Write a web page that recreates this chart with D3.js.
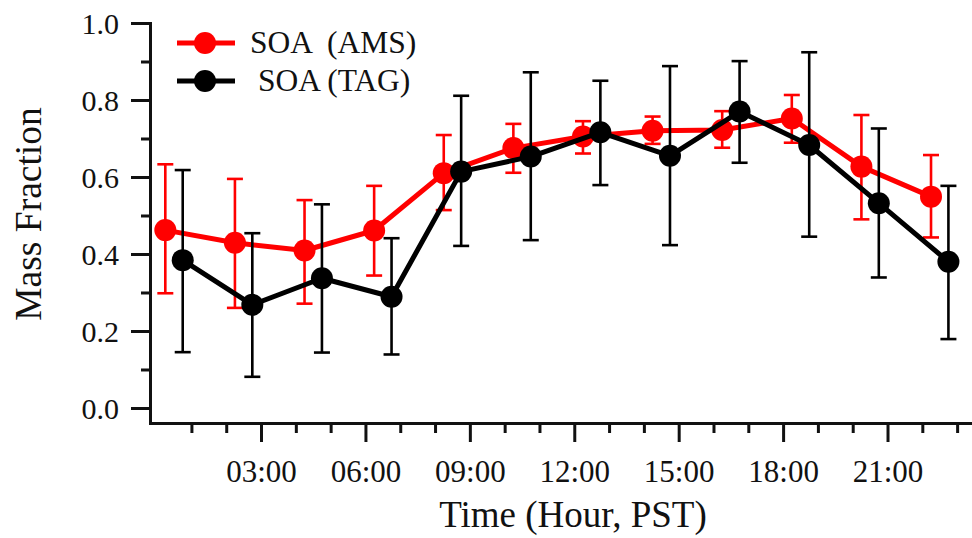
<!DOCTYPE html>
<html>
<head>
<meta charset="utf-8">
<script src="https://cdn.jsdelivr.net/npm/d3@7"></script>
<style>
  body { margin: 0; background: #fff; }
  text { font-family: "Liberation Serif", "Times New Roman", serif; fill: #111; }
</style>
</head>
<body>
<svg id="chart" width="972" height="538"></svg>
<script>
// data (hour of day, mass fraction, error bar ends)
var amsHour = [0.25, 2.25, 4.25, 6.25, 8.25, 10.25, 12.25, 14.25, 16.25, 18.25, 20.25, 22.25];
var amsValue = [0.462, 0.429, 0.409, 0.461, 0.610, 0.675, 0.705, 0.720, 0.722, 0.752, 0.627, 0.549];
var amsHigh = [0.633, 0.595, 0.540, 0.577, 0.709, 0.738, 0.745, 0.757, 0.771, 0.813, 0.761, 0.657];
var amsLow = [0.298, 0.260, 0.271, 0.344, 0.514, 0.611, 0.661, 0.686, 0.676, 0.689, 0.490, 0.443];

var tagHour = [0.75, 2.75, 4.75, 6.75, 8.75, 10.75, 12.75, 14.75, 16.75, 18.75, 20.75, 22.75];
var tagValue = [0.384, 0.268, 0.337, 0.289, 0.614, 0.653, 0.716, 0.655, 0.770, 0.683, 0.532, 0.380];
var tagHigh = [0.618, 0.454, 0.529, 0.441, 0.811, 0.872, 0.850, 0.888, 0.901, 0.924, 0.726, 0.577];
var tagLow = [0.145, 0.081, 0.144, 0.139, 0.421, 0.436, 0.579, 0.423, 0.637, 0.445, 0.339, 0.179];

var xMajor = [3, 6, 9, 12, 15, 18, 21];
var xMinor = [1, 2, 4, 5, 7, 8, 10, 11, 13, 14, 16, 17, 19, 20, 22, 23];
var yMajor = [0, 0.2, 0.4, 0.6, 0.8, 1.0];
var yMinor = [0.1, 0.3, 0.5, 0.7, 0.9];

var legendNames = ["SOA  (AMS)", "SOA (TAG)"];

var svg = d3.select("#chart");

var x = d3.scaleLinear().domain([-0.19, 23.37]).range([150, 970]);
var y = d3.scaleLinear().domain([-0.039, 1.0]).range([423, 23]);

function hourFmt(h) {
	return (h < 10 ? "0" : "") + h + ":00";
}

// axes
var xAxis = svg.append("g").attr("transform", "translate(0,423)");
xAxis.call(d3.axisBottom(x).tickValues(xMajor).tickSize(19).tickSizeOuter(0).tickFormat(hourFmt));
xAxis.append("g").call(d3.axisBottom(x).tickValues(xMinor).tickSize(10).tickSizeOuter(0).tickFormat(""))
	.select(".domain").remove();

var yAxis = svg.append("g").attr("transform", "translate(150,0)");
yAxis.call(d3.axisLeft(y).tickValues(yMajor).tickSize(19).tickSizeOuter(0).tickFormat(d3.format(".1f")));
yAxis.append("g").call(d3.axisLeft(y).tickValues(yMinor).tickSize(9).tickSizeOuter(0).tickFormat(""))
	.select(".domain").remove();

svg.selectAll(".domain, .tick line")
	.attr("stroke", "#111")
	.attr("stroke-width", 3);
svg.selectAll(".domain").attr("stroke-linecap", "square");

xAxis.selectAll(".tick text")
	.attr("font-size", 31)
	.attr("font-family", "Liberation Serif")
	.attr("dy", 0)
	.attr("y", 59);
yAxis.selectAll(".tick text")
	.attr("font-size", 30)
	.attr("font-family", "Liberation Serif")
	.attr("x", -31)
	.attr("dy", "0.34em");

// axis titles
svg.append("text")
	.attr("x", 573)
	.attr("y", 527)
	.attr("text-anchor", "middle")
	.attr("font-size", 37)
	.text("Time (Hour, PST)");

svg.append("text")
	.attr("transform", "translate(41,214) rotate(-90)")
	.attr("text-anchor", "middle")
	.attr("font-size", 37.5)
	.text("Mass Fraction");

// series
function drawSeries(hours, vals, hi, lo, color) {
	var g = svg.append("g");
	var pts = hours.map(function(h, i) {
		return { h: h, v: vals[i], hi: hi[i], lo: lo[i] };
	});

	var bars = g.append("g").selectAll("g").data(pts).enter().append("g")
		.attr("stroke", color)
		.attr("stroke-width", 2.6);
	bars.append("line")
		.attr("x1", function(d) { return x(d.h); })
		.attr("x2", function(d) { return x(d.h); })
		.attr("y1", function(d) { return y(d.hi); })
		.attr("y2", function(d) { return y(d.lo); });
	bars.append("line")
		.attr("x1", function(d) { return x(d.h) - 8; })
		.attr("x2", function(d) { return x(d.h) + 8; })
		.attr("y1", function(d) { return y(d.hi); })
		.attr("y2", function(d) { return y(d.hi); });
	bars.append("line")
		.attr("x1", function(d) { return x(d.h) - 8; })
		.attr("x2", function(d) { return x(d.h) + 8; })
		.attr("y1", function(d) { return y(d.lo); })
		.attr("y2", function(d) { return y(d.lo); });

	var line = d3.line()
		.x(function(d) { return x(d.h); })
		.y(function(d) { return y(d.v); });
	g.append("path")
		.datum(pts)
		.attr("d", line)
		.attr("fill", "none")
		.attr("stroke", color)
		.attr("stroke-width", 5)
		.attr("stroke-linejoin", "round");

	g.append("g").selectAll("circle").data(pts).enter().append("circle")
		.attr("cx", function(d) { return x(d.h); })
		.attr("cy", function(d) { return y(d.v); })
		.attr("r", 11)
		.attr("fill", color);
}

drawSeries(amsHour, amsValue, amsHigh, amsLow, "#ff0000");
drawSeries(tagHour, tagValue, tagHigh, tagLow, "#000000");

// legend
var legendColors = ["#ff0000", "#000000"];
var legendTextX = [250, 258];
var leg = svg.append("g").selectAll("g").data(legendNames).enter().append("g")
	.attr("transform", function(d, i) { return "translate(0," + (43 + i * 38) + ")"; });
leg.append("line")
	.attr("x1", 177).attr("x2", 235)
	.attr("stroke", function(d, i) { return legendColors[i]; })
	.attr("stroke-width", 5);
leg.append("circle")
	.attr("cx", 205)
	.attr("r", 11)
	.attr("fill", function(d, i) { return legendColors[i]; });
leg.append("text")
	.attr("x", function(d, i) { return legendTextX[i]; })
	.attr("y", 10)
	.attr("font-size", 31.5)
	.style("white-space", "pre")
	.text(function(d) { return d; });
</script>
</body>
</html>
